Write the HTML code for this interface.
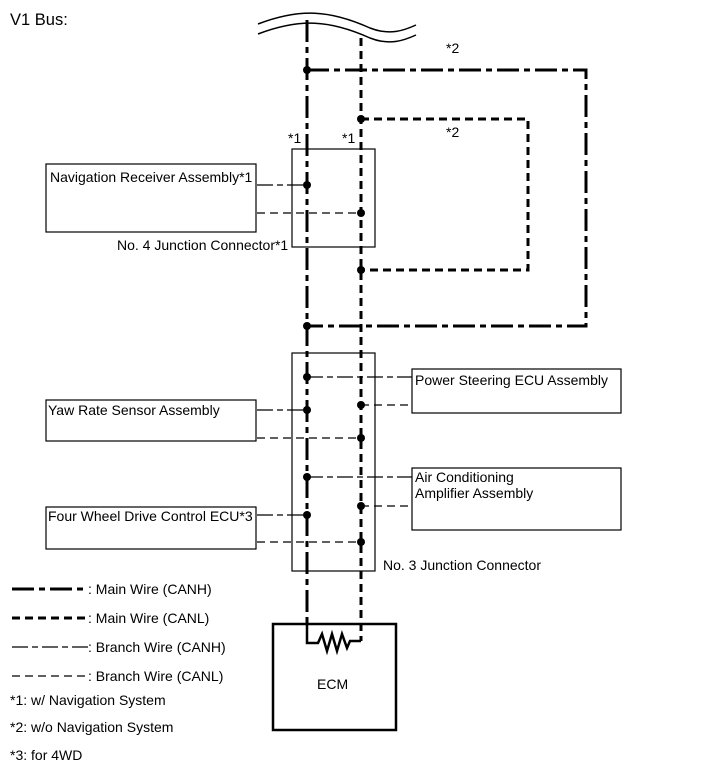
<!DOCTYPE html>
<html><head><style>body{margin:0;background:#fff}svg{display:block}text{font-family:"Liberation Sans",sans-serif;font-size:14px;fill:#000}</style></head><body>
<svg width="713" height="782" viewBox="0 0 713 782" xmlns="http://www.w3.org/2000/svg">
<text x="10" y="25" style="font-size:16.5px">V1 Bus:</text>
<path d="M258,24 C300,8 330,10 370,28 C390,36 405,30 416,25" fill="none" stroke="#000" stroke-width="1.5"/>
<path d="M258,34 C300,18 330,20 370,38 C390,46 405,40 416,35" fill="none" stroke="#000" stroke-width="1.5"/>
<g fill="none" stroke="#000">
<path d="M307,20 V624" stroke-width="3" stroke-dasharray="22,5,6,5"/>
<path d="M307,70 H586 V326 H307" stroke-width="3" stroke-dasharray="22,5,6,5"/>
<path d="M361,38 V641" stroke-width="3" stroke-dasharray="8,5"/>
<path d="M361,119 H528 V270 H361" stroke-width="3" stroke-dasharray="8,5"/>
<path d="M307,624 V643 H318 L322,634 L327,651 L332,634 L337,651 L342,634 L347,648 L350,641 H361" stroke-width="2.5"/>
<g stroke-width="1.3" stroke-dasharray="16,4,6,4">
<path d="M257,185 H307"/><path d="M257,410 H307"/><path d="M257,515 H307"/>
<path d="M307,377 H412"/><path d="M307,477 H412"/>
</g>
<g stroke-width="1.3" stroke-dasharray="8,5">
<path d="M257,213 H361"/><path d="M257,438 H361"/><path d="M257,542 H361"/>
<path d="M361,405 H412"/><path d="M361,506 H412"/>
</g>
<g stroke-width="1.2">
<rect x="292" y="149" width="83" height="98"/>
<rect x="292" y="353" width="83" height="218"/>
<rect x="46" y="164" width="210" height="68"/>
<rect x="46" y="400" width="210" height="41"/>
<rect x="46" y="507" width="210" height="42"/>
<rect x="412" y="369" width="209" height="44"/>
<rect x="412" y="468" width="209" height="62"/>
</g>
<rect x="273" y="624" width="123" height="106" stroke-width="2.5"/>
<path d="M12,589 H88" stroke-width="3" stroke-dasharray="22,5,6,5"/>
<path d="M12,618 H88" stroke-width="3" stroke-dasharray="8,5"/>
<path d="M12,647 H88" stroke-width="1.3" stroke-dasharray="16,4,6,4"/>
<path d="M12,676 H88" stroke-width="1.3" stroke-dasharray="8,5"/>
</g>
<g fill="#000">
<circle cx="307" cy="70" r="4"/><circle cx="361" cy="119" r="4"/>
<circle cx="307" cy="185" r="4"/><circle cx="361" cy="213" r="4"/><circle cx="361" cy="270" r="4"/>
<circle cx="307" cy="326" r="4"/>
<circle cx="307" cy="377" r="4"/><circle cx="361" cy="405" r="4"/>
<circle cx="307" cy="410" r="4"/><circle cx="361" cy="438" r="4"/>
<circle cx="307" cy="477" r="4"/><circle cx="361" cy="506" r="4"/>
<circle cx="307" cy="515" r="4"/><circle cx="361" cy="542" r="4"/>
</g>
<text x="446" y="53">*2</text><text x="446" y="137">*2</text>
<text x="288" y="143">*1</text><text x="342" y="143">*1</text>
<text x="50" y="182">Navigation Receiver Assembly*1</text>
<text x="117" y="250">No. 4 Junction Connector*1</text>
<text x="48" y="415">Yaw Rate Sensor Assembly</text>
<text x="48" y="521">Four Wheel Drive Control ECU*3</text>
<text x="415" y="385">Power Steering ECU Assembly</text>
<text x="415" y="482">Air Conditioning</text>
<text x="415" y="498">Amplifier Assembly</text>
<text x="383" y="570">No. 3 Junction Connector</text>
<text x="317" y="689">ECM</text>
<text x="88" y="594">: Main Wire (CANH)</text>
<text x="88" y="623">: Main Wire (CANL)</text>
<text x="88" y="652">: Branch Wire (CANH)</text>
<text x="88" y="681">: Branch Wire (CANL)</text>
<text x="10" y="705">*1: w/ Navigation System</text>
<text x="10" y="732">*2: w/o Navigation System</text>
<text x="10" y="760">*3: for 4WD</text>
</svg>
</body></html>
